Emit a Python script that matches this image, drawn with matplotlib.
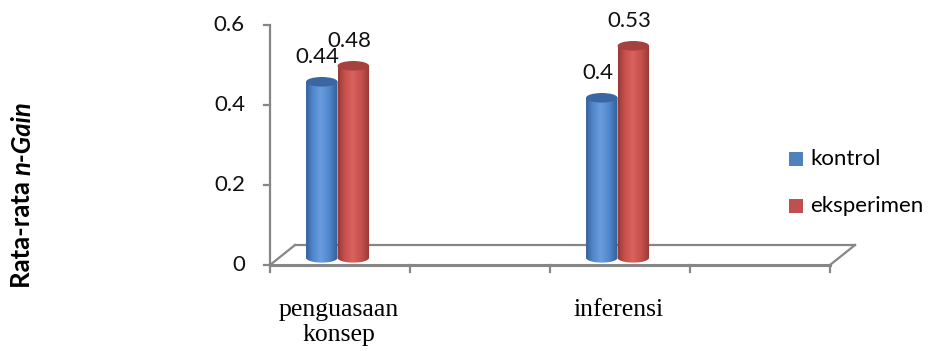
import numpy as np
import matplotlib
matplotlib.use("Agg")
import matplotlib.pyplot as plt
from matplotlib.path import Path
from matplotlib.patches import PathPatch, Ellipse, Rectangle
from matplotlib.colors import LinearSegmentedColormap

categories = ["penguasaan\nkonsep", "inferensi"]
series = ["kontrol", "eksperimen"]
kontrol = [0.44, 0.40]
eksperimen = [0.48, 0.53]
value_labels = [["0.44", "0.4"], ["0.48", "0.53"]]
yticks = [0, 0.2, 0.4, 0.6]
ytick_labels = ["0", "0.2", "0.4", "0.6"]

SANS = "Lato"
W, H = 937, 351
fig = plt.figure(figsize=(W / 100, H / 100), dpi=100)
ax = fig.add_axes([270 / W, (H - 265) / H, 560 / W, 240 / H])
ax.set_xlim(0, 4)
ax.set_ylim(0, 0.6)
for s in ax.spines.values():
    s.set_visible(False)
ax.set_xticks([])
ax.set_yticks([])

gray = "#868686"
dxd, dyd = 25 / 140, 20 / 400
# y axis
ax.plot([0, 0], [0, 0.6], color=gray, lw=1.6, clip_on=False, solid_capstyle="butt")
for t in yticks:
    ax.plot([-6 / 140, 0], [t, t], color=gray, lw=1.6, clip_on=False)
# floor
ax.plot([0, 4], [0, 0], color=gray, lw=2.2, clip_on=False)
ax.plot([dxd, 4 + dxd], [dyd, dyd], color=gray, lw=1.6, clip_on=False)
ax.plot([0, dxd], [0, dyd], color=gray, lw=1.6, clip_on=False)
ax.plot([4, 4 + dxd], [0, dyd], color=gray, lw=1.6, clip_on=False)
for xt in [0, 1, 2, 3, 4]:
    ax.plot([xt, xt], [0, -7 / 400], color=gray, lw=1.6, clip_on=False)

for t, lab in zip(yticks, ytick_labels):
    ax.text(-25 / 140, t, lab, ha="right", va="center", fontsize=16,
            family=SANS, color="#111111", clip_on=False)

cat_pos = [0.5, 2.5]
width = 0.225
base = 0.018
eh = 0.024

def cmap_for(light, mid, dark):
    return LinearSegmentedColormap.from_list("c", [dark, mid, light, mid, dark])

styles = {
    "kontrol": dict(c=cmap_for("#6a9ddf", "#5087cb", "#335e98"), top="#3a67a2", off=-0.13),
    "eksperimen": dict(c=cmap_for("#d9625e", "#c8504c", "#943936"), top="#a5413e", off=0.095),
}

for si, (name, vals) in enumerate(zip(series, [kontrol, eksperimen])):
    st = styles[name]
    for ci, v in enumerate(vals):
        xc = cat_pos[ci] + st["off"]
        x0, x1 = xc - width / 2, xc + width / 2
        top = base + v
        th = np.linspace(np.pi, 2 * np.pi, 40)
        bx = xc + width / 2 * np.cos(th)
        by = base + eh / 2 * np.sin(th)
        verts = [(x0, top)] + list(zip(bx, by)) + [(x1, top), (x0, top)]
        codes = [Path.MOVETO] + [Path.LINETO] * (len(verts) - 2) + [Path.CLOSEPOLY]
        patch = PathPatch(Path(verts, codes), facecolor="none", edgecolor="none")
        ax.add_patch(patch)
        g = np.linspace(0, 1, 200) ** 0.9
        im = ax.imshow(g.reshape(1, -1), cmap=st["c"], aspect="auto",
                       extent=[x0, x1, base - eh, top], zorder=3, interpolation="bilinear")
        im.set_clip_path(patch)
        ax.add_patch(Ellipse((xc, top), width, eh, facecolor=st["top"], edgecolor="none", zorder=4))
        ax.annotate(value_labels[si][ci], (xc, top), xytext=(-3, 18), textcoords="offset points",
                    ha="center", va="center", fontsize=16, family=SANS, color="#111111",
                    zorder=5, annotation_clip=False)

for ci, lab in enumerate(categories):
    ax.text(cat_pos[ci] - 0.01, -0.085, lab, ha="center", va="top", fontsize=18.5,
            family="Liberation Serif", linespacing=1.15, clip_on=False)

# y label with mixed style
ypix = 288
for txt, stl in [("Rata-rata ", "normal"), ("n-Gain", "italic")]:
    tt = fig.text(22 / W, 1 - ypix / H, txt, rotation=90, ha="center", va="bottom",
                  fontsize=18.5, fontweight="bold", style=stl, family=SANS)
    fig.canvas.draw()
    ypix -= tt.get_window_extent().height

# legend
for name, col, yp in [(series[0], "#4f81bd", 159), (series[1], "#c0504d", 206)]:
    fig.patches.append(Rectangle((789 / W, 1 - (yp + 7) / H), 14 / W, 14 / H,
                                 transform=fig.transFigure, facecolor=col, edgecolor="none"))
    fig.text(810 / W, 1 - yp / H, name, ha="left", va="center", fontsize=16, family=SANS)

fig.savefig("out.png", dpi=100)
